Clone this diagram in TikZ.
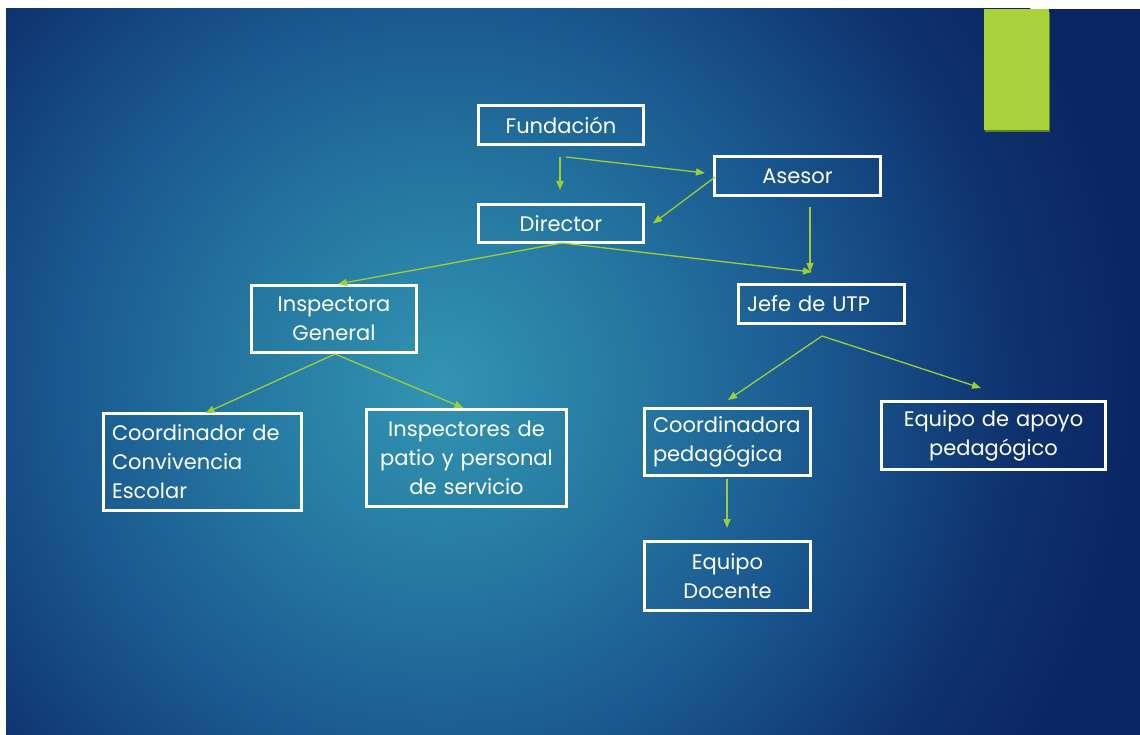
\documentclass[tikz,border=0pt]{standalone}
\usepackage{fontspec}
\setmainfont{Poppins}
\usetikzlibrary{arrows.meta,calc}
\definecolor{bgA}{RGB}{50,148,178}
\definecolor{bgB}{RGB}{38,122,162}
\definecolor{bgC}{RGB}{26,88,144}
\definecolor{bgD}{RGB}{14,50,110}
\definecolor{bgE}{RGB}{10,38,98}
\definecolor{lime}{RGB}{168,209,58}
\definecolor{limedark}{RGB}{90,130,40}
\definecolor{arrowgreen}{RGB}{158,206,52}
\pgfdeclareradialshading{bgshade}{\pgfpoint{0bp}{0bp}}{color(0bp)=(bgA); color(6.5bp)=(bgB); color(13.5bp)=(bgC); color(20.5bp)=(bgD); color(25bp)=(bgE); color(50bp)=(bgE)}
\tikzset{
  orgbox/.style={draw=white, line width=2.6pt, text=white, inner ysep=0pt, inner xsep=8.7pt, font=\fontsize{21}{29}\selectfont},
  arr/.style={draw=arrowgreen, line width=1.3pt, -{Triangle[length=9pt,width=7pt]}}
}
\begin{document}
\begin{tikzpicture}[x=1pt,y=-1pt]
\useasboundingbox (0,0) rectangle (1140,735);
\fill[white] (0,0) rectangle (1140,735);
\begin{scope}
  \clip (6,9) rectangle (1140,735);
  \fill[bgE] (6,9) rectangle (1140,735);
  \shade[shading=bgshade] (440,385) circle (700);
\end{scope}
% green bar
\fill[limedark] (985,12) rectangle (1050,132);
\fill[lime] (984,9) rectangle (1049,130);

% boxes
\node[orgbox, minimum width=165.4, minimum height=39.4, text width=148, align=center] (fund) at (561,125) {Fundación};
\node[orgbox, minimum width=166.4, minimum height=39.4, text width=149, align=center] (ases) at (797.5,176) {Asesor};
\node[orgbox, minimum width=165.4, minimum height=38.4, text width=148, align=center] (dir) at (561,223.5) {Director};
\node[orgbox, minimum width=165.4, minimum height=67.4, text width=148, align=center] (insp) at (334,319) {Inspectora\\General};
\node[orgbox, minimum width=166.4, minimum height=39.4, text width=149, align=left] (jefe) at (821.5,304) {Jefe de UTP};
\node[orgbox, minimum width=198.4, minimum height=97.4, text width=181, align=left] (coord) at (202.5,462) {Coordinador de\\Convivencia\\Escolar};
\node[orgbox, minimum width=200.4, minimum height=97.4, text width=183, align=center] (inspat) at (466.5,458) {Inspectores de\\patio y personal\\de servicio};
\node[orgbox, minimum width=166.4, minimum height=67.4, text width=149, align=left] (coorp) at (727.5,442) {Coordinadora\\pedagógica};
\node[orgbox, minimum width=224.4, minimum height=68.4, text width=207, align=center] (apoyo) at (993.5,435.5) {Equipo de apoyo\\pedagógico};
\node[orgbox, minimum width=166.4, minimum height=69.4, text width=149, align=center] (doc) at (727.5,576) {Equipo\\Docente};

% connectors
\draw[arr] ($(fund.south)+(-1,11)$) -- ($(dir.north)+(-1,-13)$);
\draw[arr] ($(fund.south)+(5,11)$) -- ($(ases.west)+(-8,-3)$);
\draw[arr] ($(ases.west)+(2,1)$) -- ($(dir.east)+(8,0)$);
\draw[arr] ($(ases.south)+(12.5,10)$) -- ($(jefe.north)+(-11.5,-11)$);
\draw[arr] ($(dir.south)+(1,-1)$) -- ($(jefe.north)+(-9.5,-11)$);
\draw[arr] ($(dir.south)+(1,-1)$) -- ($(insp.north)+(4,0)$);
\draw[arr] ($(insp.south)+(1,0)$) -- ($(coord.north)+(3,1)$);
\draw[arr] ($(insp.south)+(1,0)$) -- ($(inspat.north)+(-3,0)$);
\draw[arr] ($(jefe.south)+(0.5,11)$) -- ($(coorp.north)+(0.5,-7)$);
\draw[arr] ($(jefe.south)+(0.5,11)$) -- ($(apoyo.north)+(-12.5,-12)$);
\draw[arr] ($(coorp.south)+(-0.5,2)$) -- ($(doc.north)+(-0.5,-12)$);
\end{tikzpicture}
\end{document}
